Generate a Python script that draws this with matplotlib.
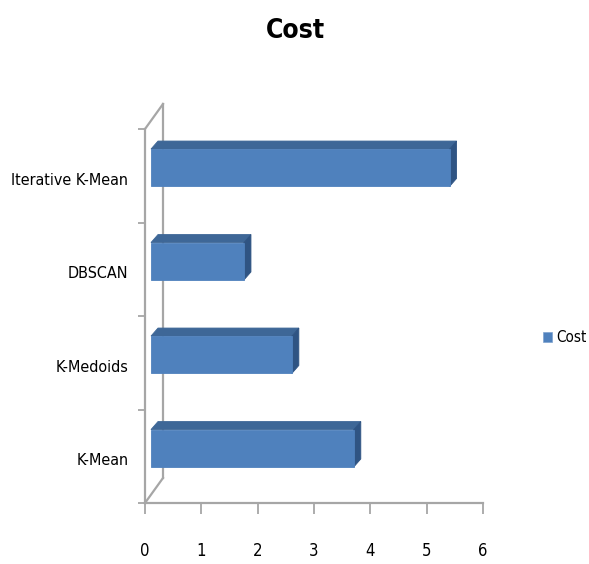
import matplotlib
matplotlib.use("Agg")
import matplotlib.pyplot as plt
from matplotlib.patches import Polygon, Rectangle
from matplotlib.transforms import Affine2D

categories = ["K-Mean", "K-Medoids", "DBSCAN", "Iterative K-Mean"]
cost = [3.6, 2.5, 1.65, 5.3]
x_ticks = [0, 1, 2, 3, 4, 5, 6]
series_name = "Cost"

FONT = ["DejaVu Sans"]
STRETCH = "condensed"

FRONT = "#4f81bd"
TOP = "#3e6797"
SIDE = "#2f5483"
GRID = "#a6a6a6"

W, H = 589, 564
fig = plt.figure(figsize=(W / 100, H / 100), dpi=100)
fig.patch.set_facecolor("white")
ax = fig.add_axes([145 / W, (H - 503) / H, (483 - 145) / W, (503 - 129) / H])
ax.set_xlim(0, 6)
ax.set_ylim(-0.5, len(categories) - 0.5)
ax.patch.set_visible(False)

for s in ("top", "right"):
    ax.spines[s].set_visible(False)
for s in ("left", "bottom"):
    ax.spines[s].set_color(GRID)
    ax.spines[s].set_linewidth(1.6)

# value axis
ax.set_xticks(x_ticks)
ax.set_xticklabels([str(t) for t in x_ticks], fontsize=12, family=FONT, fontstretch=STRETCH)
ax.tick_params(axis="x", direction="out", length=8, width=1.3, color=GRID, pad=20)

# category axis: boundary ticks, labels at the centres
ax.set_yticks([i - 0.5 for i in range(len(categories) + 1)])
ax.set_yticklabels([])
ax.tick_params(axis="y", which="major", direction="out", length=5, width=1.3, color=GRID)
ax.set_yticks(range(len(categories)), minor=True)
ax.set_yticklabels(categories, minor=True, fontsize=11.5, family=FONT, fontstretch=STRETCH)
ax.tick_params(axis="y", which="minor", length=0, pad=12)
for lbl in ax.get_yticklabels(minor=True):
    lbl.set_transform(lbl.get_transform() + Affine2D().translate(0, -3))

# back wall edges (depth offset in pixels)
wdx, wdy = 18, 25
shift_wall = ax.transData + Affine2D().translate(wdx, wdy)
y0, y1 = -0.5, len(categories) - 0.5
ax.plot([0, 0], [y0, y1], color=GRID, lw=1.6, transform=shift_wall, clip_on=False)
to_disp = ax.transData.transform
for yy in (y0, y1):
    px, py = to_disp((0, yy))
    ax.plot([px, px + wdx], [py, py + wdy], color=GRID, lw=1.6, transform=None, clip_on=False)

# 3-D bars: front face, top face and right side face
fdx, fdy = 6, 8     # front face offset inside the depth
bdx, bdy = 7, 8     # bar depth
half = 0.2
for i, v in enumerate(cost):
    (xl, yb) = to_disp((0, i - half))
    (xr, yt) = to_disp((v, i + half))
    xl += fdx; xr += fdx; yb += fdy; yt += fdy
    top = [(xl, yt), (xr, yt), (xr + bdx, yt + bdy), (xl + bdx, yt + bdy)]
    side = [(xr, yb), (xr, yt), (xr + bdx, yt + bdy), (xr + bdx, yb + bdy)]
    front = [(xl, yb), (xr, yb), (xr, yt), (xl, yt)]
    for pts, col in ((top, TOP), (side, SIDE), (front, FRONT)):
        fig.patches.append(Polygon(pts, closed=True, facecolor=col, edgecolor=col,
                                   lw=0.6, transform=None, figure=fig))

# title
fig.text(295 / W, 1 - 31 / H, "Cost", ha="center", va="center", fontsize=19,
         fontweight="bold", family=FONT, fontstretch=STRETCH)

# legend
fig.patches.append(Rectangle((543 / W, 1 - 342 / H), 9 / W, 10 / H, transform=fig.transFigure,
                             facecolor=FRONT, edgecolor="#7fa3cf", lw=0.5, figure=fig))
fig.text(556 / W, 1 - 337 / H, series_name, ha="left", va="center", fontsize=11,
         family=FONT, fontstretch=STRETCH)

fig.savefig("out.png", dpi=100, facecolor="white")
